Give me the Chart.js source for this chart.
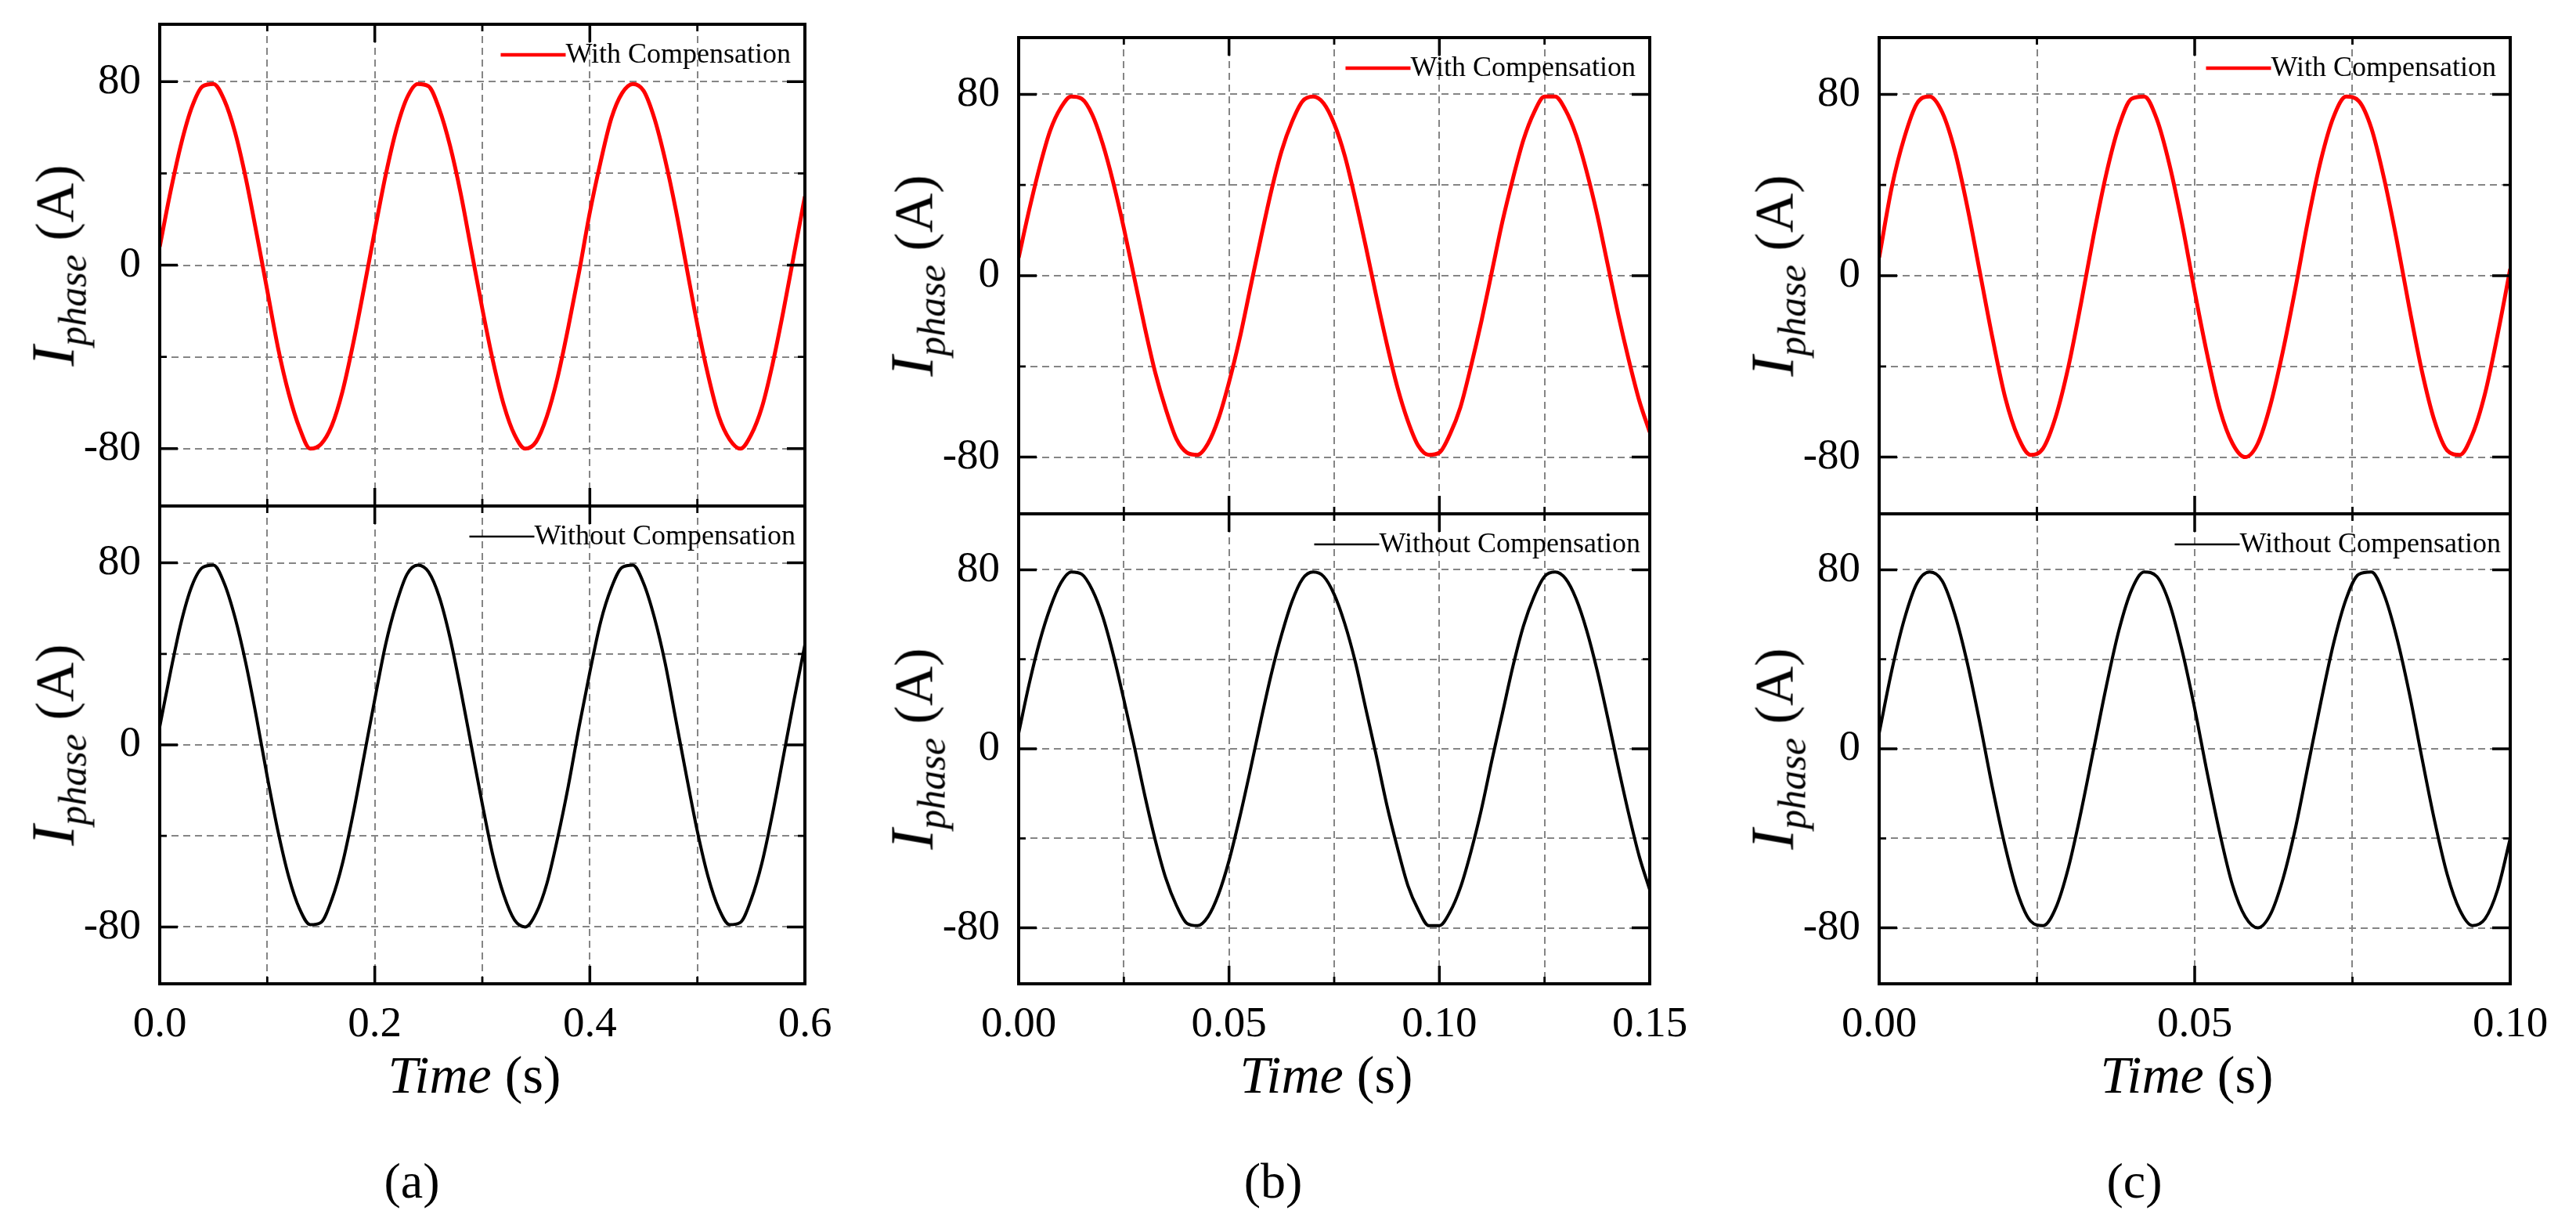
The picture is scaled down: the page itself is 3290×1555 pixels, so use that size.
<!DOCTYPE html>
<html>
<head>
<meta charset="utf-8">
<title>Phase current with and without compensation</title>
<script src="https://cdn.jsdelivr.net/npm/chart.js@4.4.0/dist/chart.umd.min.js"></script>
<style>
  html, body { margin: 0; padding: 0; background: #fff; }
  body { width: 3290px; height: 1555px; position: relative; overflow: hidden;
         font-family: "Liberation Serif", "Times New Roman", serif; color: #000; }
  .box { position: absolute; }
  .lbl { position: absolute; white-space: nowrap; line-height: 1; transform: translate(-50%, -50%); }
  .ylab { font-size: 70px; transform: translate(-50%, -50%) rotate(-90deg); }
  .ylab .big { font-style: italic; font-size: 78px; }
  .ylab sub { font-style: italic; font-size: 50px; vertical-align: -0.32em; }
  .xlab { font-size: 68px; }
  .cap { font-size: 64px; }
</style>
</head>
<body>
<script>
// sample times (s) for each column
const timeA = [0, 0.01, 0.02, 0.03, 0.04, 0.05, 0.06, 0.07, 0.08, 0.09, 0.1, 0.11, 0.12, 0.13, 0.14, 0.15,
  0.16, 0.17, 0.18, 0.19, 0.2, 0.21, 0.22, 0.23, 0.24, 0.25, 0.26, 0.27, 0.28, 0.29, 0.3, 0.31, 0.32, 0.33,
  0.34, 0.35, 0.36, 0.37, 0.38, 0.39, 0.4, 0.41, 0.42, 0.43, 0.44, 0.45, 0.46, 0.47, 0.48, 0.49, 0.5, 0.51,
  0.52, 0.53, 0.54, 0.55, 0.56, 0.57, 0.58, 0.59, 0.6];
const timeB = [0, 0.0025, 0.005, 0.0075, 0.01, 0.0125, 0.015, 0.0175, 0.02, 0.0225, 0.025, 0.0275, 0.03,
  0.0325, 0.035, 0.0375, 0.04, 0.0425, 0.045, 0.0475, 0.05, 0.0525, 0.055, 0.0575, 0.06, 0.0625, 0.065,
  0.0675, 0.07, 0.0725, 0.075, 0.0775, 0.08, 0.0825, 0.085, 0.0875, 0.09, 0.0925, 0.095, 0.0975, 0.1,
  0.1025, 0.105, 0.1075, 0.11, 0.1125, 0.115, 0.1175, 0.12, 0.1225, 0.125, 0.1275, 0.13, 0.1325, 0.135,
  0.1375, 0.14, 0.1425, 0.145, 0.1475, 0.15];
const timeC = [0, 0.002, 0.004, 0.006, 0.008, 0.01, 0.012, 0.014, 0.016, 0.018, 0.02, 0.022, 0.024, 0.026,
  0.028, 0.03, 0.032, 0.034, 0.036, 0.038, 0.04, 0.042, 0.044, 0.046, 0.048, 0.05, 0.052, 0.054, 0.056,
  0.058, 0.06, 0.062, 0.064, 0.066, 0.068, 0.07, 0.072, 0.074, 0.076, 0.078, 0.08, 0.082, 0.084, 0.086,
  0.088, 0.09, 0.092, 0.094, 0.096, 0.098, 0.1];

// phase current (A)
const withCompA = [8, 32, 53, 69, 78, 79, 72, 58, 38, 14, -11, -36, -56, -71, -80, -78, -70, -55, -34, -10,
  15, 39, 59, 73, 79, 78, 68, 52, 31, 6, -19, -42, -61, -74, -80, -77, -66, -49, -27, -3,
  23, 45, 64, 75, 79, 76, 64, 46, 24, -1, -26, -48, -66, -76, -80, -74, -62, -43, -20, 5, 30];
const withoutCompA = [8, 32, 54, 70, 78, 79, 71, 56, 36, 12, -14, -38, -58, -72, -79, -78, -68, -52, -30, -5,
  20, 44, 62, 75, 79, 76, 65, 47, 24, -1, -26, -49, -66, -77, -80, -74, -61, -41, -18, 8,
  32, 54, 69, 78, 79, 71, 56, 36, 11, -14, -38, -58, -72, -79, -78, -68, -52, -30, -5, 20, 44];
const withCompB = [8, 29, 48, 64, 74, 79, 78, 71, 58, 41, 21, -1, -23, -43, -59, -72, -78, -79, -74, -63,
  -47, -28, -6, 16, 37, 55, 68, 77, 79, 76, 67, 53, 34, 13, -9, -30, -49, -64, -75, -79,
  -78, -70, -58, -40, -20, 2, 24, 43, 60, 72, 79, 79, 73, 62, 46, 27, 5, -17, -37, -55, -69];
const withoutCompB = [7, 29, 48, 63, 74, 79, 78, 71, 59, 42, 22, 1, -21, -41, -58, -70, -78, -79, -75, -65,
  -50, -31, -10, 12, 33, 51, 66, 76, 79, 77, 69, 56, 39, 18, -3, -25, -44, -61, -72, -79,
  -79, -73, -62, -46, -27, -5, 16, 37, 55, 68, 77, 79, 76, 67, 53, 35, 14, -8, -29, -48, -63];
const withCompC = [8, 39, 61, 76, 79, 72, 55, 30, 1, -28, -54, -71, -79, -76, -62, -40, -12, 18, 45, 66,
  78, 79, 69, 49, 23, -7, -35, -59, -74, -80, -74, -57, -33, -5, 25, 51, 70, 79, 77, 65,
  43, 16, -14, -42, -64, -77, -79, -70, -52, -26, 3];
const withoutCompC = [7, 35, 58, 74, 79, 75, 60, 38, 11, -18, -44, -65, -77, -79, -71, -53, -28, 0, 28, 53,
  71, 79, 77, 65, 44, 18, -11, -38, -61, -75, -80, -74, -58, -35, -7, 21, 47, 67, 78, 79,
  69, 50, 25, -4, -32, -56, -72, -79, -76, -63, -40];

// axis ticks and labels ('' = minor tick, grid line only)
const xTicksA = [0, 0.1, 0.2, 0.3, 0.4, 0.5, 0.6];
const xLabelsA = ['0.0', '', '0.2', '', '0.4', '', '0.6'];
const xTicksB = [0, 0.025, 0.05, 0.075, 0.1, 0.125, 0.15];
const xLabelsB = ['0.00', '', '0.05', '', '0.10', '', '0.15'];
const xTicksC = [0, 0.025, 0.05, 0.075, 0.1];
const xLabelsC = ['0.00', '', '0.05', '', '0.10'];
const yTicks = [-80, -40, 0, 40, 80];
const yLabels = ['-80', '', '0', '', '80'];
const yMin = -105;
const yMax = 105;

const labelWith = 'With Compensation';
const labelWithout = 'Without Compensation';
const captions = ['(a)', '(b)', '(c)'];

// page layout (px)
const PAD_L = 170, PAD_R = 60, PAD_T = 10;
const FONT = '"Liberation Serif", "Times New Roman", serif';
const GRID = '#858585';
const RED = '#ff0000';
const BLACK = '#000000';

const columns = [
  { L: 204, R: 1028, T: 31, M: 646, B: 1256, xMax: 0.6, time: timeA, withC: withCompA, withoutC: withoutCompA,
    xTicks: xTicksA, xLabels: xLabelsA, capX: 526 },
  { L: 1301, R: 2107, T: 48, M: 656, B: 1256, xMax: 0.15, time: timeB, withC: withCompB, withoutC: withoutCompB,
    xTicks: xTicksB, xLabels: xLabelsB, capX: 1626 },
  { L: 2400, R: 3206, T: 48, M: 656, B: 1256, xMax: 0.1, time: timeC, withC: withCompC, withoutC: withoutCompC,
    xTicks: xTicksC, xLabels: xLabelsC, capX: 2726 }
];

// box frame plus inward tick marks on all four sides
function framePlugin(xLabels){
    return {
        id: 'frameTicks',
        afterDraw(chart){
            const ctx = chart.ctx;
            const a = chart.chartArea;
            const sx = chart.scales.x;
            const sy = chart.scales.y;
            ctx.save();
            ctx.strokeStyle = '#000';
            ctx.lineCap = 'butt';
            sx.ticks.forEach((t, i) => {
                const major = xLabels[i] !== '';
                const len = major ? 23 : 9;
                const px = sx.getPixelForValue(t.value);
                ctx.lineWidth = major ? 3.5 : 2.8;
                ctx.beginPath();
                ctx.moveTo(px, a.bottom); ctx.lineTo(px, a.bottom - len);
                ctx.moveTo(px, a.top); ctx.lineTo(px, a.top + len);
                ctx.stroke();
            });
            sy.ticks.forEach((t, i) => {
                const major = yLabels[i] !== '';
                const len = major ? 23 : 9;
                const py = sy.getPixelForValue(t.value);
                ctx.lineWidth = major ? 3.5 : 2.8;
                ctx.beginPath();
                ctx.moveTo(a.left, py); ctx.lineTo(a.left + len, py);
                ctx.moveTo(a.right, py); ctx.lineTo(a.right - len, py);
                ctx.stroke();
            });
            ctx.lineWidth = 4;
            ctx.strokeRect(a.left, a.top, a.right - a.left, a.bottom - a.top);
            ctx.restore();
        }
    };
}

// legend drawn inside the plot, top right
const insideLegend = {
    id: 'insideLegend',
    afterDraw(chart){
        const ctx = chart.ctx;
        const a = chart.chartArea;
        const ds = chart.data.datasets[0];
        ctx.save();
        ctx.font = '36px ' + FONT;
        const w = ctx.measureText(ds.label).width;
        const right = a.right - (ds.label === labelWith ? 18 : 12);
        const y = a.top + 39;
        ctx.strokeStyle = ds.borderColor;
        ctx.lineWidth = ds.borderColor === BLACK ? 2.5 : 4.5;
        ctx.beginPath();
        ctx.moveTo(right - w - 83, y);
        ctx.lineTo(right - w, y);
        ctx.stroke();
        ctx.fillStyle = '#000';
        ctx.textAlign = 'left';
        ctx.textBaseline = 'middle';
        ctx.fillText(ds.label, right - w, y + 1);
        ctx.restore();
    }
};

function addLabel(cls, html, x, y){
    const el = document.createElement('div');
    el.className = 'lbl ' + cls;
    el.innerHTML = html;
    el.style.left = x + 'px';
    el.style.top = y + 'px';
    document.body.appendChild(el);
}

function makeSubplot(col, top, bottom, values, label, color, showX){
    const padB = showX ? 100 : 10;
    const wrap = document.createElement('div');
    wrap.className = 'box';
    wrap.style.left = (col.L - PAD_L) + 'px';
    wrap.style.top = (top - PAD_T) + 'px';
    wrap.style.width = (col.R - col.L + PAD_L + PAD_R) + 'px';
    wrap.style.height = (bottom - top + PAD_T + padB) + 'px';
    const canvas = document.createElement('canvas');
    wrap.appendChild(canvas);
    document.body.appendChild(wrap);

    const points = col.time.map((t, i) => ({ x: t, y: values[i] }));

    return new Chart(canvas.getContext('2d'), {
        type: 'line',
        data: {
            datasets: [{
                label: label,
                data: points,
                borderColor: color,
                borderWidth: color === BLACK ? 4 : 5,
                pointRadius: 0,
                fill: false,
                cubicInterpolationMode: 'monotone'
            }]
        },
        options: {
            responsive: true,
            maintainAspectRatio: false,
            animation: false,
            layout: { padding: { left: 0, right: PAD_R, top: PAD_T, bottom: 0 } },
            plugins: {
                legend: { display: false },
                tooltip: { enabled: false }
            },
            scales: {
                x: {
                    type: 'linear',
                    min: 0,
                    max: col.xMax,
                    afterBuildTicks: s => { s.ticks = col.xTicks.map(v => ({ value: v })); },
                    afterFit: s => { s.height = padB; s.paddingLeft = 0; s.paddingRight = 0; },
                    ticks: {
                        display: showX,
                        autoSkip: false,
                        maxRotation: 0,
                        minRotation: 0,
                        padding: 20,
                        color: '#000',
                        font: { family: FONT, size: 55 },
                        callback: (v, i) => col.xLabels[i]
                    },
                    grid: { color: GRID, lineWidth: 2, drawTicks: false, borderDash: [9, 6] },
                    border: { display: false, dash: [9, 6] }
                },
                y: {
                    min: yMin,
                    max: yMax,
                    afterBuildTicks: s => { s.ticks = yTicks.map(v => ({ value: v })); },
                    afterFit: s => { s.width = PAD_L; s.paddingTop = 0; s.paddingBottom = 0; },
                    ticks: {
                        padding: 24,
                        color: '#000',
                        font: { family: FONT, size: 55 },
                        callback: (v, i) => yLabels[i]
                    },
                    grid: { color: GRID, lineWidth: 2, drawTicks: false, borderDash: [9, 6] },
                    border: { display: false, dash: [9, 6] }
                }
            }
        },
        plugins: [framePlugin(col.xLabels), insideLegend]
    });
}

const yTitle = '<i class="big">I</i><sub>phase</sub> (A)';

columns.forEach((col, k) => {
    makeSubplot(col, col.T, col.M, col.withC, labelWith, RED, false);
    makeSubplot(col, col.M, col.B, col.withoutC, labelWithout, BLACK, true);
    addLabel('ylab', yTitle, col.L - 131, (col.T + col.M) / 2);
    addLabel('ylab', yTitle, col.L - 131, (col.M + col.B) / 2);
    addLabel('xlab', '<i>Time</i> (s)', (col.L + col.R) / 2 - 10, 1372);
    addLabel('cap', captions[k], col.capX, 1508);
});
</script>
</body>
</html>
